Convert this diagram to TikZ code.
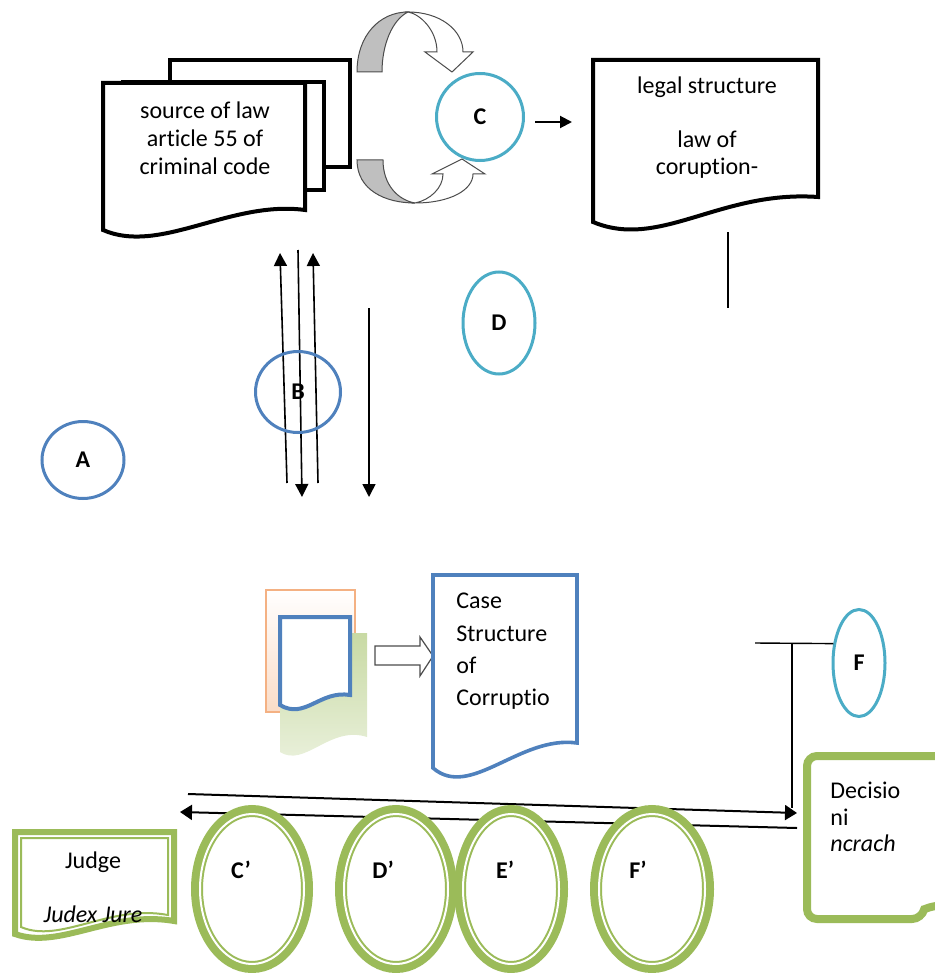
\documentclass[tikz,border=0pt]{standalone}
\usepackage{fontspec}
\setmainfont{Carlito}[Ligatures=NoCommon]
\usetikzlibrary{arrows.meta,shapes.geometric,positioning}
\definecolor{lblue}{HTML}{4F81BD}
\definecolor{lteal}{HTML}{4BACC6}
\definecolor{lgreen}{HTML}{9BBB59}
\definecolor{lorange}{HTML}{F4B183}
\definecolor{lgray}{HTML}{BFBFBF}
\tikzset{
  txt/.style={font=\fontsize{12}{14}\selectfont, inner sep=0pt},
  letter/.style={ellipse, draw, line width=1.5pt, inner sep=0pt, font=\fontsize{12}{14}\selectfont\bfseries},
  ring/.style={ellipse, draw=lgreen, line width=6pt, fill=white, inner sep=0pt},
  docline/.style={line width=2pt, fill=white},
  bendedge/.style={draw=black!70, line width=0.5pt},
  thin arrow/.style={line width=0.8pt, -{Triangle[length=6.5pt,width=6.5pt]}},
  long arrow/.style={line width=1pt, -{Triangle[length=6pt,width=7.5pt]}}
}

\begin{document}
\begin{tikzpicture}[x=0.5pt, y=-0.5pt]
  \useasboundingbox (0,0) rectangle (935,973);
  \clip (0,0) rectangle (935,973);

  % source of law (stack of documents)
  \draw[docline] (170,60) rectangle (350,167);
  \draw[docline] (123,82) rectangle (324,190);
  \draw[docline] (103,83) -- (305,83) -- (305,210)
        .. controls (230,200) and (160,255) .. (103,230) -- cycle;
  \node[txt, align=center, font=\fontsize{12}{14}\selectfont] (src) at (205,138)
        {source of law\\article 55 of\\criminal code};

  % curved arrows round C
  \draw[bendedge, fill=lgray] (357,72) -- (382,72)
        .. controls (382,45) and (392,20) .. (408,12)
        .. controls (380,12) and (357,35) .. (357,72) -- cycle;
  \draw[bendedge, fill=white] (408,12) .. controls (440,12) and (463,30) .. (463,52)
        -- (473,52) -- (452,72) -- (425,52) -- (437,52)
        .. controls (437,30) and (420,14) .. (408,12) -- cycle;
  \draw[bendedge, fill=lgray] (357,160) -- (383,160)
        .. controls (383,185) and (398,200) .. (415,203)
        .. controls (385,203) and (357,190) .. (357,160) -- cycle;
  \draw[bendedge, fill=white] (415,203) .. controls (450,203) and (473,190) .. (473,174)
        -- (485,174) -- (462,159) -- (432,174) -- (443,174)
        .. controls (443,188) and (430,200) .. (415,203) -- cycle;
  \node[letter, draw=lteal, fill=white, minimum width=43.5pt, minimum height=43.5pt] (C) at (480,117) {C};

  % legal structure
  \draw[docline] (593,60) -- (818,60) -- (818,197)
        .. controls (720,190) and (660,250) .. (593,222) -- cycle;
  \node[txt, align=center, font=\fontsize{12}{13.5}\selectfont] (legal) at (707,127.5)
        {legal structure\\\mbox{}\\law of\\coruption-};
  \coordinate (ca0) at (535,122);
  \coordinate (ca1) at (572,122);
  \draw[line width=1pt, -{Triangle[length=6pt,width=6pt]}] (ca0) -- (ca1);
  \coordinate (lg0) at (728,232);
  \coordinate (lg1) at (728,308);
  \draw[line width=0.7pt] (lg0) -- (lg1);

  % vertical arrows through B
  \coordinate (b1s) at (287,483); \coordinate (b1e) at (280,253);
  \coordinate (b2s) at (298,250); \coordinate (b2e) at (302,497);
  \coordinate (b3s) at (318,483); \coordinate (b3e) at (313,253);
  \coordinate (b4s) at (369,308); \coordinate (b4e) at (369,497);
  \draw[thin arrow] (b1s) -- (b1e);
  \draw[thin arrow] (b2s) -- (b2e);
  \draw[thin arrow] (b3s) -- (b3e);
  \draw[thin arrow] (b4s) -- (b4e);

  \node[letter, draw=lblue, minimum width=41pt, minimum height=38.5pt] (A) at (83,460) {A};
  \node[letter, draw=lblue, minimum width=42.5pt, minimum height=40.5pt] (B) at (298,392) {B};
  \node[letter, draw=lteal, minimum width=36pt, minimum height=51pt] (D) at (499,323) {D};
  \node[letter, draw=lteal, minimum width=26pt, minimum height=53.5pt] (F) at (859,663) {F};

  % small stack of case documents
  \shade[top color=white, bottom color=lorange!45] (266,590) rectangle (355,712);
  \draw[lorange, line width=0.8pt] (266,590) rectangle (355,712);
  \shade[top color=lgreen!55, bottom color=lgreen!20]
        (280,633) -- (367,633) -- (367,737)
        .. controls (330,725) and (305,768) .. (280,752) -- cycle;
  \draw[lblue, line width=2pt, fill=white] (280,617) -- (350,617) -- (350,695)
        .. controls (320,690) and (305,720) .. (280,705) -- cycle;
  \draw[black!70, line width=0.6pt, fill=white] (375,646) -- (420,646) -- (420,637)
        -- (433,656) -- (420,676) -- (420,665) -- (375,665) -- cycle;

  % case structure
  \draw[lblue, line width=1.8pt, fill=white] (433,575) -- (577,575) -- (577,743)
        .. controls (520,735) and (470,800) .. (433,768) -- cycle;
  \node[txt, anchor=west, align=left, font=\fontsize{12}{16.2}\selectfont] (case) at (456,651.5)
        {Case\\Structure\\of\\Corruptio};

  % F to the decision
  \coordinate (fl) at (755,643);
  \coordinate (fv) at (792,643);
  \coordinate (fvb) at (792,808);
  \draw[line width=0.7pt] (F.143) -- (fl);
  \draw[line width=0.7pt] (fv) -- (fvb);

  % long arrows
  \coordinate (r0) at (188,794); \coordinate (r1) at (797,813);
  \coordinate (l0) at (797,828); \coordinate (l1) at (180,812);
  \draw[long arrow] (r0) -- (r1);
  \draw[long arrow] (l0) -- (l1);

  % decision
  \draw[lgreen, line width=4pt, rounded corners=5pt, fill=white]
        (950,756) -- (807,756) -- (807,919) -- (922,919)
        .. controls (924,910) and (930,905) .. (950,905);
  \node[txt, anchor=west, align=left, font=\fontsize{12}{13.25}\selectfont] (dec) at (830,817)
        {Decisio\\ni\\\textit{ncrach}};

  % judge
  \draw[lgreen, line width=3pt, fill=white] (15,832) -- (174,832) -- (174,921)
        .. controls (110,910) and (60,950) .. (15,934) -- cycle;
  \draw[lgreen, line width=1pt] (21,838) -- (168,838) -- (168,915)
        .. controls (110,904) and (60,944) .. (21,927) -- cycle;
  \node[txt] (judge) at (93,862) {Judge};
  \node[txt, font=\fontsize{12}{14}\selectfont\itshape] (judex) at (93,914) {Judex Jure};

  % green rings
  \foreach \nm/\cx/\rx/\lx/\lab in {cp/252/61/241/C’, dp/396/61/383/D’, ep/511/57/505/E’, fp/652/62/638/F’}{
    \node[ring, minimum width={(\rx-6)*1pt}, minimum height=78pt] (\nm) at (\cx,889) {};
    \draw[white, line width=1pt] (\nm.center) ellipse ({(\rx-9)*0.5pt} and 37.5pt);
    \node[txt, font=\fontsize{12}{14}\selectfont\bfseries] (\nm l) at (\lx,870) {\lab};
  }
\end{tikzpicture}
\end{document}
